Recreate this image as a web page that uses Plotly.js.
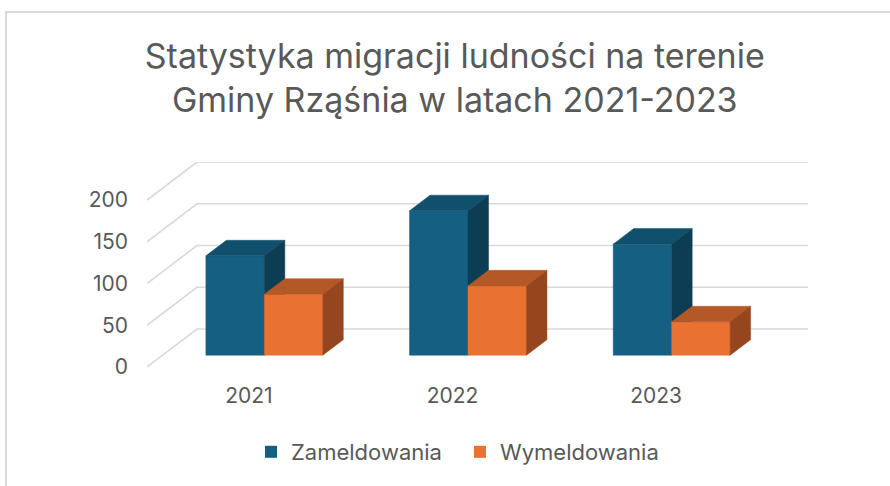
<!DOCTYPE html>
<html>
<head>
<meta charset="utf-8">
<script src="https://cdn.plot.ly/plotly-3.0.1.min.js"></script>
<style>
  html, body { margin: 0; padding: 0; background: #fff; }
  #chart { width: 890px; height: 486px; position: absolute; left: 0; top: 0; }
  #frame { position: absolute; left: 5px; top: 11px; width: 900px; height: 500px;
           border-left: 2px solid #d9d9d9; border-top: 2px solid #d9d9d9; pointer-events: none; }
</style>
</head>
<body>
<div id="chart"></div>
<div id="frame"></div>
<script>
// ---- data ----
const categories = ['2021', '2022', '2023'];
const zameldowania = [119, 173, 133];
const wymeldowania = [73, 83, 40];
const yTicks = [0, 50, 100, 150, 200];
const seriesNames = ['Zameldowania', 'Wymeldowania'];

// ---- 3D projection parameters (oblique) ----
const YMAX = 200;
const D = 0.2455;   // full depth offset in category units
const H = 45.5;     // full depth offset in value units
const fFront = 0.31, fBack = 0.72; // bar depth span (fraction of full depth)
const W = 0.287;    // bar width (category units)

const blue = { front: '#156082', top: '#11506d', side: '#0d3d52' };
const orange = { front: '#e97132', top: '#b55827', side: '#96461f' };
const palettes = [blue, orange];

const traces = [];

// gridlines: left side wall + back wall
yTicks.forEach(v => {
  traces.push({
    type: 'scatter', mode: 'lines',
    x: [-0.5, -0.5 + D, categories.length - 0.5 + D],
    y: [v, v + H, v + H],
    line: { color: '#d9d9d9', width: 1.6 },
    hoverinfo: 'skip', showlegend: false
  });
});

function poly(xs, ys, color) {
  traces.push({
    type: 'scatter', mode: 'lines', fill: 'toself',
    x: xs.concat([xs[0]]), y: ys.concat([ys[0]]),
    fillcolor: color, line: { color: color, width: 0.5 },
    hoverinfo: 'skip', showlegend: false
  });
}

const dD = (fBack - fFront) * D, dH = (fBack - fFront) * H;
categories.forEach((cat, i) => {
  [zameldowania, wymeldowania].forEach((series, s) => {
    const v = series[i];
    const pal = palettes[s];
    const xl = i - W + s * W + fFront * D;
    const xr = xl + W;
    const yb = fFront * H;
    const yt = v + fFront * H;
    poly([xl, xr, xr, xl], [yb, yb, yt, yt], pal.front);                       // front
    poly([xl, xr, xr + dD, xl + dD], [yt, yt, yt + dH, yt + dH], pal.top);     // top
    poly([xr, xr + dD, xr + dD, xr], [yb, yb + dH, yt + dH, yt], pal.side);    // side
  });
});

// legend entries
seriesNames.forEach((name, s) => {
  traces.push({
    type: 'scatter', mode: 'markers', name: name,
    x: [null], y: [null],
    marker: { symbol: 'square', size: 12, color: palettes[s].front },
    showlegend: true
  });
});

const fontFam = 'Inter, "Open Sans", sans-serif';
const layout = {
  width: 890, height: 486,
  margin: { l: 147, r: 82, t: 162, b: 119 },
  paper_bgcolor: '#ffffff', plot_bgcolor: 'rgba(0,0,0,0)',
  font: { family: fontFam, color: '#595959' },
  title: {
    text: 'Statystyka migracji ludności na terenie<br>Gminy Rząśnia w latach 2021-2023',
    font: { size: 34, color: '#595959', family: fontFam },
    x: 0.511, xanchor: 'center', xref: 'container',
    y: 0.86, yanchor: 'middle', yref: 'container'
  },
  xaxis: {
    range: [-0.5, categories.length - 0.5 + D],
    tickvals: categories.map((c, i) => i), ticktext: categories,
    showgrid: false, zeroline: false, showline: false, ticks: '',
    tickfont: { size: 21, color: '#595959' }, ticklabelstandoff: 14,
    fixedrange: true
  },
  yaxis: {
    range: [0, YMAX + H],
    tickvals: yTicks, ticktext: yTicks.map(String),
    showgrid: false, zeroline: false, showline: false, ticks: '',
    tickfont: { size: 21, color: '#595959' }, ticklabelstandoff: 18,
    fixedrange: true
  },
  showlegend: true,
  legend: {
    orientation: 'h', x: (251 - 147) / 661, xanchor: 'left', y: -0.4146, yanchor: 'middle',
    font: { size: 22, color: '#595959' }, itemwidth: 30, entrywidth: 164, traceorder: 'normal'
  }
};

Plotly.newPlot('chart', traces, layout, { displayModeBar: false, staticPlot: true });
</script>
</body>
</html>
